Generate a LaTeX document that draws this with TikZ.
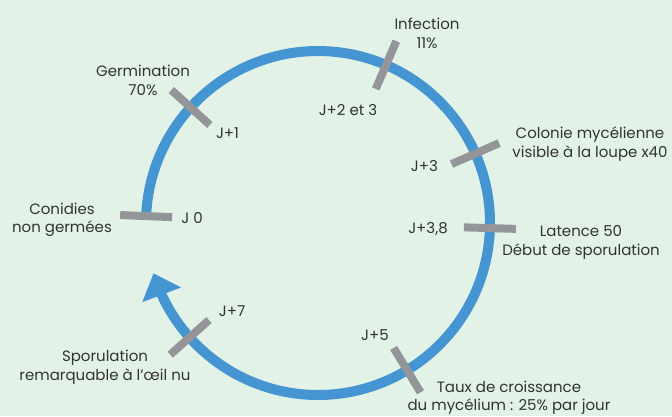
\documentclass[tikz,border=0pt]{standalone}
\usepackage{fontspec}
\setmainfont{Poppins}
\usetikzlibrary{arrows.meta,bending}
\definecolor{fond}{HTML}{E2F2E7}
\definecolor{cycle}{HTML}{4495D1}
\definecolor{trait}{HTML}{939598}
\definecolor{texte}{HTML}{333333}
\tikzset{
  etape/.style={draw=trait,line width=8pt},
  legende/.style={align=center,text=texte,inner sep=0pt,font=\fontsize{15}{18.5}\selectfont}
}
\begin{document}
\begin{tikzpicture}[x=1pt,y=1pt]
  \useasboundingbox[fill=fond] (-318,-193) rectangle (354,223);
  % cycle
  \draw[cycle,line width=10pt,-{Triangle[length=23pt,width=40pt]}]
    (177.7:172) arc[start angle=177.7,end angle=-163,radius=172];
  % jalons
  \foreach \a in {177.7,137.8,66.7,23.8,-1.7,-58.8,-138.3}
    \draw[etape] (\a:146) -- (\a:198);
  % textes
  \node[legende] (conid) at (-256,3) {Conidies\\non germées};
  \node[legende] (j0) at (-126,5) {J 0};
  \node[legende] (germ) at (-175,142.5) {Germination\\70\%};
  \node[legende] (j1) at (-90.5,90) {J+1};
  \node[legende] (infect) at (109,189.5) {Infection\\11\%};
  \node[legende] (j2) at (30,113) {J+2 et 3};
  \node[legende] (colonie) at (272,79) {Colonie mycélienne\\visible à la loupe x40};
  \node[legende] (j3) at (106.5,57) {J+3};
  \node[legende] (j38) at (110,-6) {J+3,8};
  \node[legende] (latence) at (263,-19.5) {Latence 50\\Début de sporulation};
  \node[legende] (j5) at (57,-112) {J+5};
  \node[legende] (taux) at (191,-174.5) {Taux de croissance\\du mycélium : 25\% par jour};
  \node[legende] (j7) at (-86,-88) {J+7};
  \node[legende] (sporul) at (-213,-144) {Sporulation\\remarquable à l’œil nu};
\end{tikzpicture}
\end{document}
